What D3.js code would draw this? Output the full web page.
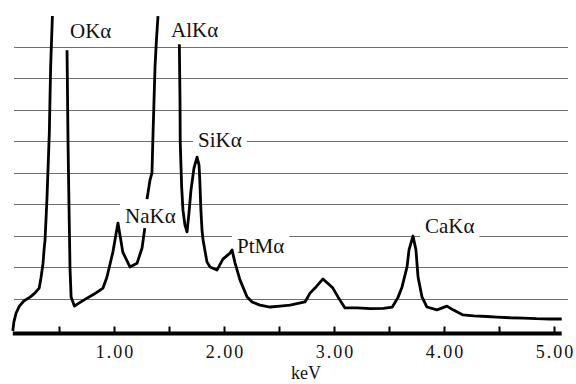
<!DOCTYPE html>
<html lang="en">
<head>
    <meta charset="UTF-8">
    <title>EDS Spectrum</title>
    <script src="https://cdnjs.cloudflare.com/ajax/libs/d3/7.8.5/d3.min.js"></script>
    <style>
        body { margin: 0; background: #fff; }
        svg { display: block; }
    </style>
</head>
<body>
<div id="chart"></div>
<script>
    // spectrum trace: energy in keV, counts in grid units
    // null marks where the printed trace is broken (clipped peaks, label gap)
    const energy = [
        0.08, 0.09, 0.11, 0.14, 0.18, 0.24, 0.28, 0.32, 0.336, 0.355, 0.364, 0.373, 0.39, 0.412, 0.418, 0.424, 0.44,
        0.50,
        0.573, 0.582, 0.59, 0.60, 0.61, 0.64, 0.67, 0.74, 0.82, 0.90, 0.936, 0.99, 1.036, 1.08, 1.145, 1.21, 1.255, 1.28,
        1.29,
        1.30, 1.327, 1.345, 1.355, 1.364, 1.373, 1.385, 1.40,
        1.50,
        1.594, 1.60, 1.602, 1.615, 1.627, 1.645, 1.664, 1.68, 1.70, 1.727, 1.755, 1.773, 1.78, 1.79, 1.80, 1.81,
        1.845, 1.873, 1.936, 1.99, 2.055, 2.073, 2.10, 2.145, 2.21, 2.255, 2.327, 2.418, 2.51, 2.60, 2.736, 2.782,
        2.827, 2.90, 2.99, 3.036, 3.10, 3.21, 3.33, 3.45, 3.53, 3.58, 3.618, 3.664, 3.682, 3.718, 3.745, 3.764, 3.80,
        3.845, 3.936, 4.027, 4.082, 4.173, 4.27, 4.39, 4.48, 4.60, 4.72, 4.84, 4.96, 5.07
    ];
    const counts = [
        0.00, 0.29, 0.57, 0.79, 0.95, 1.08, 1.20, 1.36, 1.68, 2.15, 2.57, 2.88, 4.15, 6.27, 7.32, 8.37, 9.98,
        null,
        8.90, 6.00, 4.15, 2.00, 1.08, 0.79, 0.86, 1.01, 1.17, 1.36, 1.71, 2.50, 3.42, 2.50, 2.03, 2.15, 2.63, 3.26,
        null,
        4.18, 4.78, 5.00, 6.27, 7.32, 8.37, 9.18, 9.98,
        null,
        9.09, 7.32, 6.00, 4.56, 3.83, 3.36, 3.14, 3.68, 4.47, 5.16, 5.51, 5.26, 4.78, 3.83, 3.20, 2.88,
        2.19, 2.03, 1.93, 2.28, 2.47, 2.57, 2.16, 1.62, 1.08, 0.92, 0.82, 0.76, 0.79, 0.82, 0.92, 1.20,
        1.36, 1.65, 1.36, 1.08, 0.73, 0.73, 0.71, 0.72, 0.76, 1.05, 1.39, 2.03, 2.57, 3.01, 2.57, 1.71, 1.08,
        0.76, 0.67, 0.79, 0.67, 0.51, 0.48, 0.46, 0.44, 0.42, 0.41, 0.39, 0.38, 0.38
    ];

    const gridLevels = [1, 2, 3, 4, 5, 6, 7, 8, 9];
    const tickValues = [0.5, 1.0, 1.5, 2.0, 2.5, 3.0, 3.5, 4.0, 4.5, 5.0];

    const peakNames = ["OKα", "AlKα", "SiKα", "NaKα", "PtMα", "CaKα"];
    const peakEnergy = [0.60, 1.518, 1.764, 1.10, 2.118, 3.827];
    const peakCounts = [9.28, 9.32, 5.83, 3.42, 2.47, 3.10];

    const width = 576, height = 384;
    const font = "'Liberation Serif', 'Times New Roman', serif";

    const x = d3.scaleLinear().domain([0, 5]).range([4, 554]);
    const y = d3.scaleLinear().domain([0, 9]).range([331, 47]);

    const svg = d3.select("#chart").append("svg")
        .attr("width", width)
        .attr("height", height)
        .style("background", "#fff");

    // horizontal grid
    svg.append("g")
        .selectAll("line")
        .data(gridLevels)
        .join("line")
        .attr("x1", x(0.09))
        .attr("x2", x(5.13))
        .attr("y1", d => y(d))
        .attr("y2", d => y(d))
        .attr("stroke", "#707070")
        .attr("stroke-width", 1)
        .attr("shape-rendering", "crispEdges");

    // peak labels on white patches that break the grid lines
    const labels = svg.append("g")
        .selectAll("g")
        .data(peakNames.map((name, i) => ({ name, e: peakEnergy[i], c: peakCounts[i] })))
        .join("g");

    labels.append("text")
        .attr("x", d => x(d.e))
        .attr("y", d => y(d.c))
        .attr("font-family", font)
        .attr("font-size", 21)
        .attr("fill", "#111")
        .text(d => d.name);

    labels.each(function () {
        const g = d3.select(this);
        const b = g.select("text").node().getBBox();
        g.insert("rect", "text")
            .attr("x", b.x - 5)
            .attr("y", b.y - 1)
            .attr("width", b.width + 10)
            .attr("height", b.height + 1)
            .attr("fill", "#fff");
    });

    // spectrum
    const points = energy.map((e, i) => ({ e, c: counts[i] }));
    const line = d3.line()
        .defined(d => d.c !== null)
        .x(d => x(d.e))
        .y(d => y(d.c));

    svg.append("path")
        .datum(points)
        .attr("d", line)
        .attr("fill", "none")
        .attr("stroke", "#000")
        .attr("stroke-width", 2.8)
        .attr("stroke-linejoin", "round");

    // energy axis
    const axis = d3.axisBottom(x)
        .tickValues(tickValues)
        .tickSizeInner(-7)
        .tickSizeOuter(0)
        .tickFormat(d => Number.isInteger(d) ? d3.format(".2f")(d) : "");

    const gAxis = svg.append("g")
        .attr("transform", "translate(0,333.5)")
        .call(axis);

    gAxis.select(".domain").remove();
    gAxis.selectAll(".tick line")
        .attr("stroke", "#000")
        .attr("stroke-width", 2);
    gAxis.selectAll(".tick text")
        .attr("y", 24.5)
        .attr("dy", 0)
        .attr("dx", 1)
        .attr("font-family", font)
        .attr("font-size", 18)
        .attr("letter-spacing", 2)
        .attr("fill", "#111");

    gAxis.append("line")
        .attr("x1", x(0.08))
        .attr("x2", x(5.07))
        .attr("stroke", "#000")
        .attr("stroke-width", 4);

    svg.append("text")
        .attr("x", 306)
        .attr("y", 379)
        .attr("text-anchor", "middle")
        .attr("font-family", font)
        .attr("font-size", 18)
        .attr("fill", "#111")
        .text("keV");
</script>
</body>
</html>
